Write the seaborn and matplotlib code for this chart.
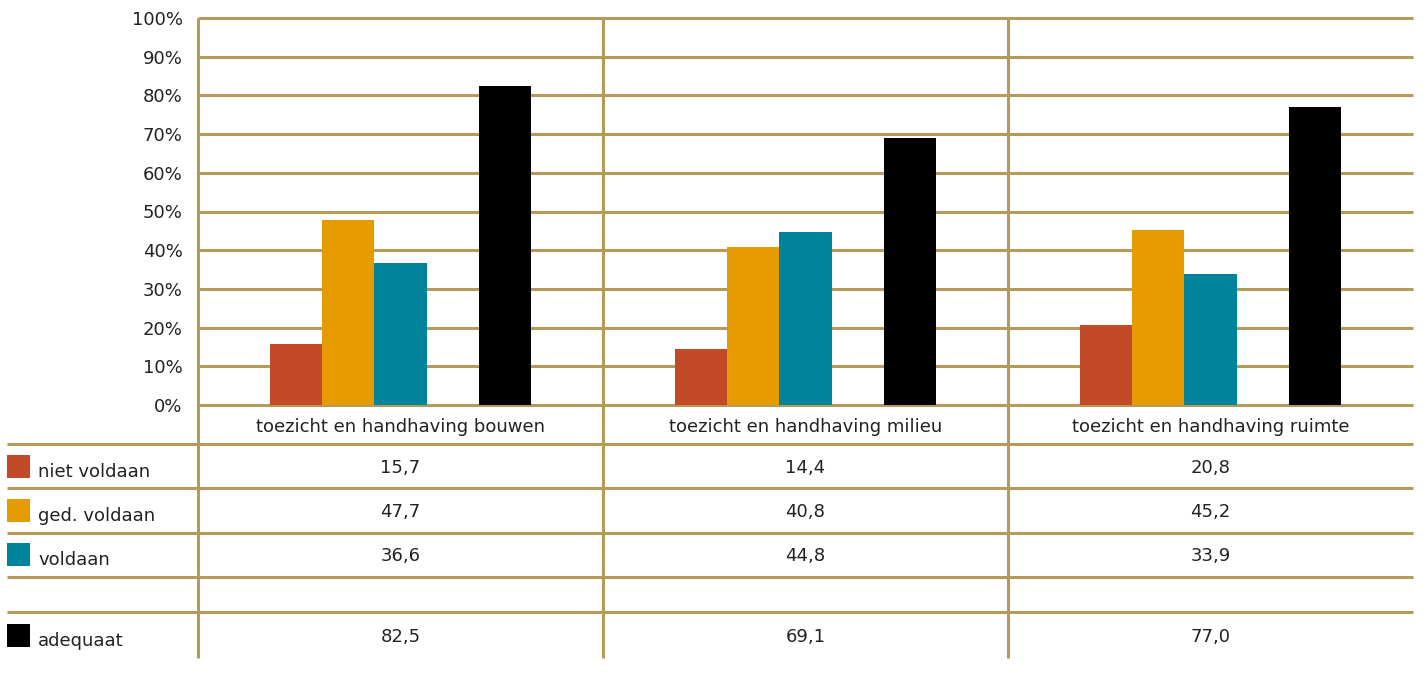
import pandas as pd
import matplotlib.pyplot as plt
import seaborn as sns

# data
categorieen = ['toezicht en handhaving bouwen', 'toezicht en handhaving milieu',
               'toezicht en handhaving ruimte']
niet_voldaan = [15.7, 14.4, 20.8]
ged_voldaan = [47.7, 40.8, 45.2]
voldaan = [36.6, 44.8, 33.9]
adequaat = [82.5, 69.1, 77.0]
reeksen = ['niet voldaan', 'ged. voldaan', 'voldaan', 'adequaat']
kleuren = {'niet voldaan': '#c24a26', 'ged. voldaan': '#e69c00',
           'voldaan': '#00849c', 'leeg': '#ffffff', 'adequaat': '#000000'}
yticks = [0, 10, 20, 30, 40, 50, 60, 70, 80, 90, 100]

df = pd.DataFrame({
    'categorie': categorieen * 4,
    'reeks': [r for r in reeksen for _ in categorieen],
    'waarde': niet_voldaan + ged_voldaan + voldaan + adequaat,
})

lijn = '#b59a5a'
tekst = '#222222'
fs = 13
plt.rcParams['font.family'] = ['DejaVu Sans']

W, H = 1426, 675
fig = plt.figure(figsize=(W / 100, H / 100), dpi=100)

# pixel layout
x0, x1 = 198, 1413
y_top, y_zero = 18, 405

# table + vertical separators on a pixel-space overlay (behind the bars)
tab = fig.add_axes([0, 0, 1, 1])
tab.set_xlim(0, W)
tab.set_ylim(H, 0)
tab.axis('off')

ax = fig.add_axes([x0 / W, 1 - y_zero / H, (x1 - x0) / W, (y_zero - y_top) / H])
ax.patch.set_alpha(0)

sns.barplot(data=df, x='categorie', y='waarde', hue='reeks',
            hue_order=['niet voldaan', 'ged. voldaan', 'voldaan', 'leeg', 'adequaat'],
            order=categorieen, palette=kleuren, width=0.642, gap=0,
            saturation=1, errorbar=None, ax=ax, legend=False, zorder=3)

ax.set_xlim(-0.5, len(categorieen) - 0.5)
ax.set_ylim(0, 100)
ax.set_yticks(yticks)
ax.set_yticklabels([f'{t}%' for t in yticks], fontsize=fs, color=tekst)
ax.set_xticks([])
ax.set_xlabel('')
ax.set_ylabel('')
ax.tick_params(axis='y', length=0, pad=11)
for s in ax.spines.values():
    s.set_visible(False)
for t in yticks:
    ax.axhline(t, color=lijn, lw=2.2, zorder=1, clip_on=False, solid_capstyle='butt')

col_w = (x1 - x0) / len(categorieen)
for i in range(len(categorieen)):
    xv = x0 + i * col_w
    tab.plot([xv, xv], [y_top, 658], color=lijn, lw=2.2, solid_capstyle='butt')

rij_lijnen = [444, 488, 533, 577, 612]
for yl in rij_lijnen:
    tab.plot([7, x1], [yl, yl], color=lijn, lw=2.2, solid_capstyle='butt')

for i, c in enumerate(categorieen):
    tab.text(x0 + (i + 0.5) * col_w, 427, c, ha='center', va='center',
             fontsize=fs, color=tekst)

tabel_rijen = [('niet voldaan', niet_voldaan, 470), ('ged. voldaan', ged_voldaan, 514),
               ('voldaan', voldaan, 558), ('adequaat', adequaat, 639)]
for naam, waarden, yc in tabel_rijen:
    tab.add_patch(plt.Rectangle((7, yc - 15), 23, 23, color=kleuren[naam], lw=0))
    tab.text(38, yc + 2, naam, ha='left', va='center', fontsize=fs, color=tekst)
    for i, v in enumerate(waarden):
        tab.text(x0 + (i + 0.5) * col_w, yc - 2, f'{v:.1f}'.replace('.', ','),
                 ha='center', va='center', fontsize=fs, color=tekst)

fig.savefig('out.png', dpi=100)
